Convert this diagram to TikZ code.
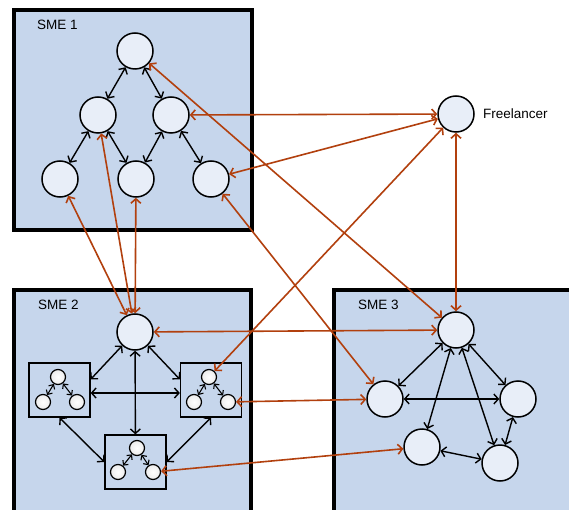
\documentclass[tikz,border=0pt]{standalone}
\usepackage{fontspec}
\setmainfont{Liberation Sans}
\usetikzlibrary{arrows.meta}
\definecolor{boxfill}{RGB}{198,214,236}
\definecolor{nodefill}{RGB}{232,238,248}
\definecolor{rust}{RGB}{178,64,14}
\begin{document}
\begin{tikzpicture}[x=1pt,y=-1pt,
 agent/.style={circle,draw=black,line width=1.5pt,fill=nodefill,minimum size=36pt,inner sep=0pt},
 small/.style={circle,draw=black,line width=1.2pt,inner color=white,outer color=white!85!gray,minimum size=15pt,inner sep=0pt},
 sme/.style={draw=black,line width=4pt,fill=boxfill},
 subbox/.style={draw=black,line width=1.3pt,fill=boxfill,minimum width=61pt,minimum height=54pt,inner sep=0pt},
 link/.style={line width=1.4pt,{Straight Barb[length=4.5pt,width=10pt]}-{Straight Barb[length=4.5pt,width=10pt]}},
 slink/.style={line width=1.1pt,{Straight Barb[length=3.5pt,width=7pt]}-{Straight Barb[length=3.5pt,width=7pt]}},
 xlink/.style={draw=rust,line width=1.6pt,{Straight Barb[length=4.5pt,width=10pt]}-{Straight Barb[length=4.5pt,width=10pt]}},
 lbl/.style={font=\fontsize{13.5}{16}\selectfont,anchor=west,inner sep=0pt}]

\useasboundingbox (0,0) rectangle (569,510);
\fill[white] (0,0) rectangle (569,510);

% SME boxes
\draw[sme] (14,10) rectangle (252,230);
\draw[sme] (14,290) rectangle (251,525);
\draw[sme] (334,290) rectangle (585,525);

\node[lbl] (l1) at (37,25) {SME 1};
\node[lbl] (l2) at (38,305) {SME 2};
\node[lbl] (l3) at (358,305) {SME 3};

% SME 1
\node[agent] (a1) at (135,51) {};
\node[agent] (a2) at (98,115) {};
\node[agent] (a3) at (171,115) {};
\node[agent] (a4) at (60,179) {};
\node[agent] (a5) at (136,179) {};
\node[agent] (a6) at (211,179) {};
\draw[link] (a1) -- (a2);
\draw[link] (a1) -- (a3);
\draw[link] (a2) -- (a4);
\draw[link] (a2) -- (a5);
\draw[link] (a3) -- (a5);
\draw[link] (a3) -- (a6);

% Freelancer
\node[agent] (f) at (456,114) {};
\node[lbl] (fl) at (483,114) {Freelancer};

% SME 2
\node[agent] (b) at (135,332) {};
\node[subbox] (lb) at (59.5,390) {};
\node[subbox] (rb) at (211,390) {};
\node[subbox] (bb) at (135.5,462) {};
\node[small] (lt) at (58,377) {};
\node[small] (ll) at (43,402) {};
\node[small] (lr) at (77,402) {};
\node[small] (rt) at (209,377) {};
\node[small] (rl) at (194,402) {};
\node[small] (rr) at (228,402) {};
\node[small] (bt) at (137,448) {};
\node[small] (bl) at (118,472) {};
\node[small] (br) at (153,472) {};
\draw[slink] (lt) -- (ll);
\draw[slink] (lt) -- (lr);
\draw[slink] (rt) -- (rl);
\draw[slink] (rt) -- (rr);
\draw[slink] (bt) -- (bl);
\draw[slink] (bt) -- (br);
\draw[link] (b) -- ([yshift=-17pt]lb.north east);
\draw[link] (b) -- ([yshift=-17pt]rb.north west);
\draw[link] (b) -- (bb);
\draw[link] ([yshift=-3pt]lb.east) -- ([yshift=-3pt]rb.west);
\draw[link] (lb.south) -- (bb.west);
\draw[link] (rb.south) -- (bb.east);

% SME 3
\node[agent] (c1) at (456,330) {};
\node[agent] (c2) at (385,399) {};
\node[agent] (c3) at (518,399) {};
\node[agent] (c4) at (422,447) {};
\node[agent] (c5) at (500,463) {};
\draw[link] (c1) -- (c2);
\draw[link] (c1) -- (c3);
\draw[link] (c1) -- (c4);
\draw[link] (c1) -- (c5);
\draw[link] (c2) -- (c3);
\draw[link] (c3) -- (c5);
\draw[link] (c4) -- (c5);

% inter-organisational links
\draw[xlink] (a1) -- (c1);
\draw[xlink] (a3) -- (f);
\draw[xlink] (a6) -- (f);
\draw[xlink] (a6) -- (c2);
\draw[xlink] (a4) -- (b);
\draw[xlink] (a2) -- (b);
\draw[xlink] (a5) -- (b);
\draw[xlink] (b) -- (c1);
\draw[xlink] (rt) -- (f);
\draw[xlink] (rr) -- (c2);
\draw[xlink] (br) -- (c4);
\draw[xlink] (f) -- (c1);
\end{tikzpicture}
\end{document}
